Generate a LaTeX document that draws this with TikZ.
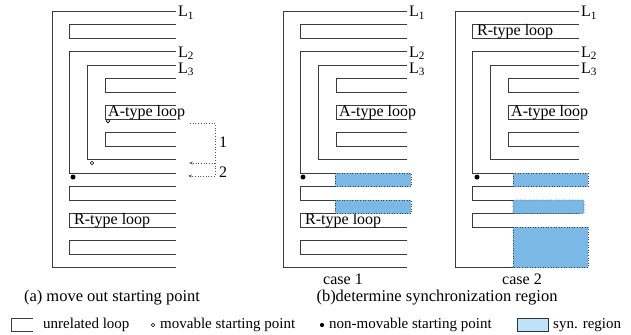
\documentclass[tikz,border=0pt]{standalone}
\usepackage{fontspec}
\setmainfont{Liberation Serif}
\usetikzlibrary{arrows.meta}
\definecolor{synBlue}{RGB}{122, 185, 230}
\definecolor{legendBlue}{RGB}{190, 226, 250}
\definecolor{wireGray}{RGB}{60, 60, 60}

% open loop: left x, top row, bottom row (right side stays open at x=176)
\newcommand{\openloop}[3]{%
  \draw[wire] (176,#2) -- (#1,#2) -- (#1,#3) -- (176,#3);}

% L1 / L2 / L3 nest with its three inner loops, #1 = name prefix
\newcommand{\loopnest}[1]{%
  \draw[wire] (176,0) -- (52,0) -- (52,19) -- (176,19);
  \openloop{69}{3}{12}
  \openloop{87}{4}{11}
  \openloop{105}{5}{6}
  \openloop{105}{7}{8}
  \openloop{105}{9}{10}
  \node[txt, anchor=base west] (#1L1) at (178,0.44) {L\textsubscript{1}};
  \node[txt, anchor=base west] (#1L2) at (178,3.41) {L\textsubscript{2}};
  \node[txt, anchor=base west] (#1L3) at (178,4.6) {L\textsubscript{3}};
  \node[txt, anchor=base west] (#1A) at (108,7.8) {A-type loop};}

\begin{document}
\begin{tikzpicture}[x=1pt, y=-13.5pt,
    wire/.style={draw=wireGray, line width=0.9pt},
    syn/.style={fill=synBlue, draw=black!75, dotted, line width=0.6pt},
    movearrow/.style={draw=black!65, dotted, line width=0.7pt,
      -{Stealth[length=4pt, width=3pt]}},
    txt/.style={font=\fontsize{16}{19}\selectfont, inner sep=0pt},
    captxt/.style={font=\fontsize{16.5}{19}\selectfont, inner sep=0pt},
    leg/.style={font=\fontsize{15}{17}\selectfont, inner sep=0pt, anchor=west},
    movable/.style={draw=black, fill=white, line width=0.6pt},
    fixed/.style={fill=black}]
  \useasboundingbox (0,-0.815) rectangle (631,23.926);

  % (a) move out starting point
  \loopnest{a}
  \openloop{69}{1}{2}
  \openloop{69}{13}{14}
  \openloop{69}{15}{16}
  \openloop{69}{17}{18}
  \node[txt, anchor=base west] (aR) at (74,15.82) {R-type loop};
  \draw[movable] (108,8.15) circle (1.8pt);
  \draw[movable] (92,11.26) circle (1.8pt);
  \fill[fixed] (73,12.3) circle (2.5pt);
  % moves 1 and 2
  \coordinate (s1) at (190,8.3);
  \coordinate (t1) at (189,11.26);
  \coordinate (t2) at (188,12.22);
  \coordinate (vx) at (215,0);
  \draw[movearrow] (s1) -- (s1 -| vx) -- (t1 -| vx) -- (t1);
  \draw[movearrow] (t1 -| vx) -- (t2 -| vx) -- (t2);
  \node[txt] (m1) at (223,9.7) {1};
  \node[txt] (m2) at (223,11.93) {2};

  % (b) case 1
  \begin{scope}[xshift=231pt]
    \loopnest{b}
    \openloop{69}{1}{2}
    \openloop{69}{13}{14}
    \openloop{69}{15}{16}
    \openloop{69}{17}{18}
    \node[txt, anchor=base west] (bR) at (74,15.82) {R-type loop};
    \fill[fixed] (72,12.3) circle (2.5pt);
    \draw[syn] (104,12) rectangle (180,13);
    \draw[syn] (104,14) rectangle (180,15);
    \node[txt] (case1) at (112,19.85) {case 1};
  \end{scope}

  % (b) case 2
  \begin{scope}[xshift=403pt]
    \loopnest{c}
    \openloop{69}{1}{2}
    \openloop{69}{13}{14}
    \openloop{69}{15}{16}
    \node[txt, anchor=base west] (cR) at (74,1.8) {R-type loop};
    \fill[fixed] (74,12.3) circle (2.5pt);
    \draw[syn] (110,12) rectangle (185,13);
    \draw[syn, rounded corners=1pt] (110,14) rectangle (181,15);
    \draw[syn] (110,16) rectangle (185,19);
    \node[txt] (case2) at (119,19.85) {case 2};
  \end{scope}

  % captions
  \node[captxt] (capa) at (112,21.26) {(a) move out starting point};
  \node[captxt] (capb) at (437,21.26) {(b)determine synchronization region};

  % legend
  \draw[wire, line width=0.7pt] (33,22.74) -- (11,22.74) -- (11,23.7) -- (33,23.7);
  \node[leg] (lg1) at (43,23.26) {unrelated loop};
  \draw[movable] (153,23.26) circle (1.7pt);
  \node[leg] (lg2) at (160,23.26) {movable starting point};
  \fill[fixed] (322,23.26) circle (2.1pt);
  \node[leg] (lg3) at (329,23.26) {non-movable starting point};
  \draw[fill=legendBlue, draw=black!80, line width=0.6pt] (517,22.74) rectangle (548,23.7);
  \node[leg] (lg4) at (553,23.26) {syn. region};
\end{tikzpicture}
\end{document}
